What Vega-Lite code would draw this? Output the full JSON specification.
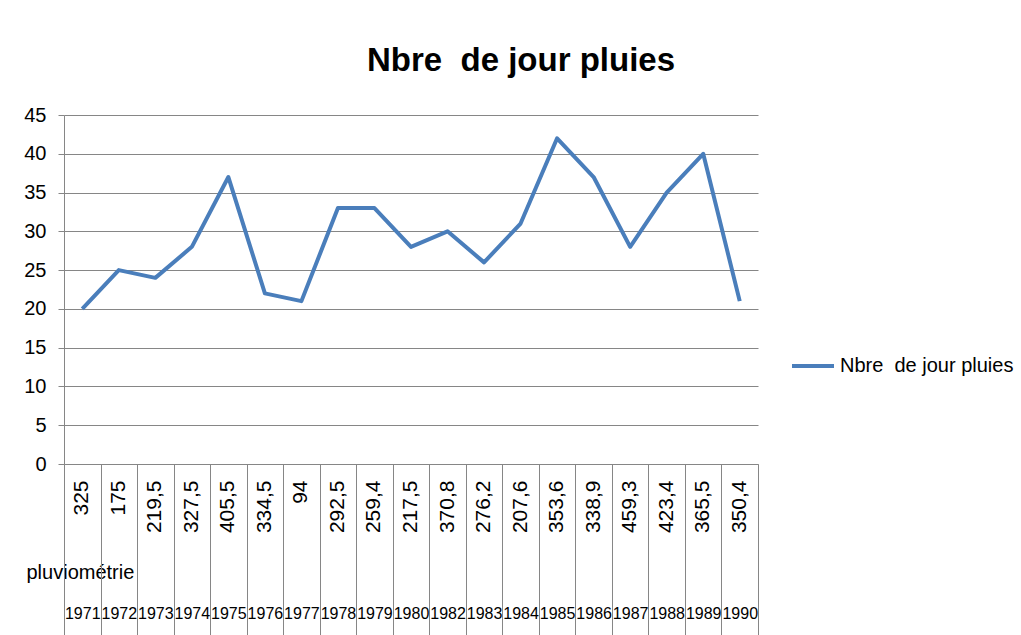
{
  "$schema": "https://vega.github.io/schema/vega-lite/v6.json",
  "width": 694,
  "height": 349,
  "autosize": {"type": "none"},
  "padding": {"left": 64, "top": 115, "right": 263, "bottom": 171},
  "background": "white",
  "title": {
    "text": "Nbre\u00a0 de jour pluies",
    "font": "Liberation Sans",
    "fontSize": 33,
    "fontWeight": "bold",
    "color": "#000000",
    "anchor": "middle",
    "dx": 110,
    "offset": 27
  },
  "data": {
    "values": [
      {"cle": "325|1971", "pluviometrie": "325", "annee": "1971", "jours": 20},
      {"cle": "175|1972", "pluviometrie": "175", "annee": "1972", "jours": 25},
      {"cle": "219,5|1973", "pluviometrie": "219,5", "annee": "1973", "jours": 24},
      {"cle": "327,5|1974", "pluviometrie": "327,5", "annee": "1974", "jours": 28},
      {"cle": "405,5|1975", "pluviometrie": "405,5", "annee": "1975", "jours": 37},
      {"cle": "334,5|1976", "pluviometrie": "334,5", "annee": "1976", "jours": 22},
      {"cle": "94|1977", "pluviometrie": "94", "annee": "1977", "jours": 21},
      {"cle": "292,5|1978", "pluviometrie": "292,5", "annee": "1978", "jours": 33},
      {"cle": "259,4|1979", "pluviometrie": "259,4", "annee": "1979", "jours": 33},
      {"cle": "217,5|1980", "pluviometrie": "217,5", "annee": "1980", "jours": 28},
      {"cle": "370,8|1982", "pluviometrie": "370,8", "annee": "1982", "jours": 30},
      {"cle": "276,2|1983", "pluviometrie": "276,2", "annee": "1983", "jours": 26},
      {"cle": "207,6|1984", "pluviometrie": "207,6", "annee": "1984", "jours": 31},
      {"cle": "353,6|1985", "pluviometrie": "353,6", "annee": "1985", "jours": 42},
      {"cle": "338,9|1986", "pluviometrie": "338,9", "annee": "1986", "jours": 37},
      {"cle": "459,3|1987", "pluviometrie": "459,3", "annee": "1987", "jours": 28},
      {"cle": "423,4|1988", "pluviometrie": "423,4", "annee": "1988", "jours": 35},
      {"cle": "365,5|1989", "pluviometrie": "365,5", "annee": "1989", "jours": 40},
      {"cle": "350,4|1990", "pluviometrie": "350,4", "annee": "1990", "jours": 21}
    ]
  },
  "layer": [
    {
      "mark": {"type": "line", "strokeWidth": 4, "strokeJoin": "round"},
      "encoding": {
        "x": {
          "field": "cle",
          "type": "nominal",
          "sort": null,
          "scale": {"type": "band", "paddingInner": 0, "paddingOuter": 0},
          "axis": {
            "orient": "bottom",
            "labelExpr": "split(datum.value, '|')[0]",
            "labelAngle": -90,
            "labelFont": "Liberation Sans",
            "labelFontSize": 21,
            "labelColor": "#000000",
            "labelPadding": 16,
            "labelOverlap": false,
            "ticks": false,
            "tickSize": 0,
            "domain": true,
            "domainColor": "#868686",
            "grid": false,
            "title": "pluviométrie",
            "titleFont": "Liberation Sans",
            "titleFontSize": 20,
            "titleFontWeight": "normal",
            "titleColor": "#000000",
            "titleAngle": 0,
            "titleAlign": "left",
            "titleBaseline": "alphabetic",
            "titleX": -38,
            "titleY": 114
          }
        },
        "y": {
          "field": "jours",
          "type": "quantitative",
          "scale": {"domain": [0, 45], "nice": false},
          "axis": {
            "values": [0, 5, 10, 15, 20, 25, 30, 35, 40, 45],
            "title": null,
            "labelFont": "Liberation Sans",
            "labelFontSize": 20,
            "labelColor": "#000000",
            "labelPadding": 12,
            "tickSize": 6,
            "tickColor": "#868686",
            "domainColor": "#868686",
            "grid": true,
            "gridColor": "#868686",
            "gridOpacity": 1
          }
        },
        "color": {
          "datum": "Nbre\u00a0 de jour pluies",
          "scale": {"range": ["#4a7ebb"]},
          "legend": {
            "title": null,
            "orient": "none",
            "legendX": 726,
            "legendY": 228,
            "symbolType": "stroke",
            "symbolSize": 1764,
            "symbolStrokeWidth": 4,
            "labelFont": "Liberation Sans",
            "labelFontSize": 20,
            "labelColor": "#000000",
            "labelOffset": 4,
            "labelLimit": 400
          }
        }
      }
    },
    {
      "mark": {"type": "line", "opacity": 0},
      "encoding": {
        "x": {
          "field": "cle",
          "type": "nominal",
          "sort": null,
          "axis": {
            "orient": "bottom",
            "labelExpr": "split(datum.value, '|')[1]",
            "labelAngle": 0,
            "labelFont": "Liberation Sans",
            "labelFontSize": 16,
            "labelColor": "#000000",
            "labelPadding": -34,
            "labelOverlap": false,
            "labelBound": false,
            "labelFlush": false,
            "ticks": true,
            "tickBand": "extent",
            "tickSize": 175,
            "tickColor": "#868686",
            "domain": false,
            "grid": false,
            "title": null
          }
        },
        "y": {
          "field": "jours",
          "type": "quantitative",
          "axis": {
            "values": [0, 5, 10, 15, 20, 25, 30, 35, 40, 45],
            "title": null,
            "labelFont": "Liberation Sans",
            "labelFontSize": 20,
            "labelColor": "#000000",
            "labelPadding": 12,
            "tickSize": 6,
            "tickColor": "#868686",
            "domainColor": "#868686",
            "grid": true,
            "gridColor": "#868686",
            "gridOpacity": 1
          }
        }
      }
    }
  ],
  "resolve": {"axis": {"x": "independent", "y": "shared"}},
  "config": {
    "view": {"stroke": null}
  }
}
